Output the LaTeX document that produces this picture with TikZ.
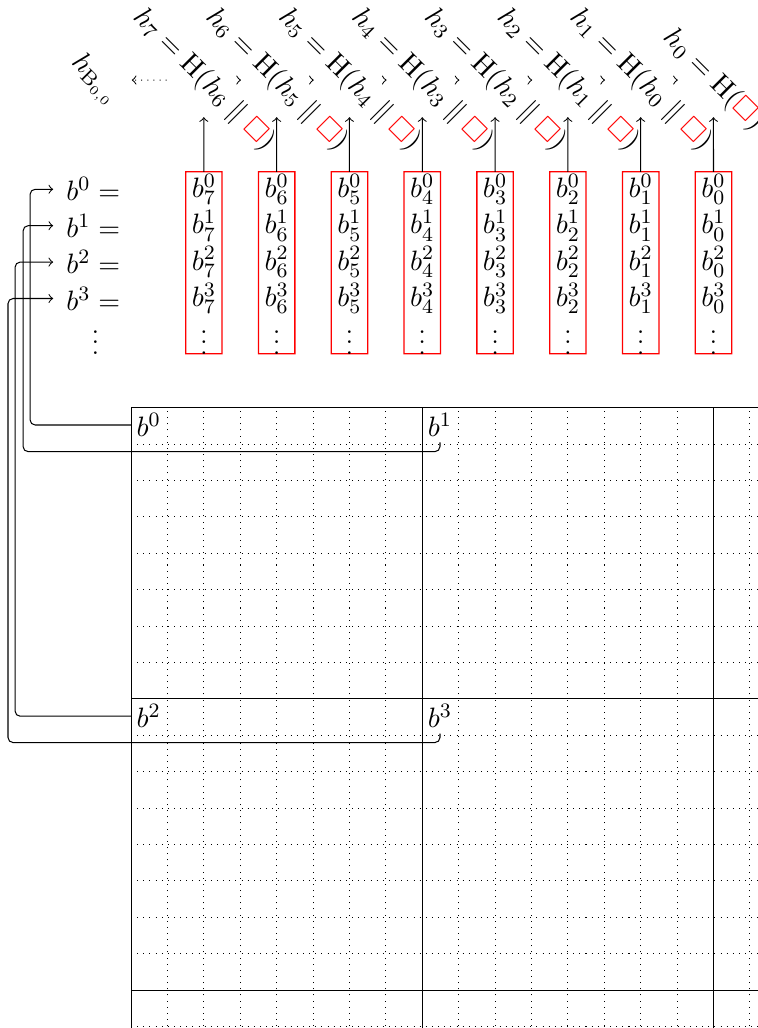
\documentclass[tikz,border=0pt]{standalone}
\usepackage{amsmath,amssymb}
\usetikzlibrary{calc}
\definecolor{boxred}{RGB}{255,0,0}
\begin{document}
\begin{tikzpicture}[
  txt/.style={font=\fontsize{11}{13}\selectfont},
  hlab/.style={txt, rotate=-45, minimum height=0.707cm, inner sep=2pt},
  blk/.style={minimum width=0.5cm, minimum height=2.5cm, inner sep=0pt, outer sep=0pt},
  ent/.style={txt, inner sep=0pt},
  glab/.style={txt, anchor=north west, inner sep=2pt},
  llab/.style={txt, anchor=west, inner xsep=5pt, inner ysep=1pt},
  conn/.style={->, rounded corners=2pt},
  chainarr/.style={->, dotted},
  >=to
]
\useasboundingbox (-1.80,-8.52) rectangle (8.61,5.60);
\clip (-1.80,-8.52) rectangle (8.61,5.60);
% grid
\draw[dotted, step=0.5] (0,-9) grid (9,0);
\draw[step=4] (0,-9) grid (9,0);
% blocks (red frames)
\foreach \i in {0,...,7}{
  \pgfmathtruncatemacro\xx{8-\i}
  \node[blk] (B\i) at (\xx,1.99) {};
  \fill[boxred, even odd rule]
    ($(B\i.south west)+(-0.25pt,-0.25pt)$) rectangle ($(B\i.north east)+(0.25pt,0.25pt)$)
    ($(B\i.south west)+(0.25pt,0.25pt)$) rectangle ($(B\i.north east)+(-0.25pt,-0.25pt)$);
}
% entries
\foreach \i in {0,...,7}{
  \pgfmathtruncatemacro\xx{8-\i}
  \foreach \r in {0,1,2,3}{
    \node[ent] (E\i\r) at (\xx,3-0.5*\r) {$b_{\i}^{\r}$};
  }
  \node[ent] (E\i d) at (\xx,1.0) {$\vdots$};
}
% hash labels
\node[hlab] (H0) at (8,4.5) {$h_{0} = \mathrm{H}({\color{boxred}\square})$};
\foreach \i in {1,...,7}{
  \pgfmathtruncatemacro\xx{8-\i}
  \pgfmathtruncatemacro\jj{\i-1}
  \node[hlab] (H\i) at (\xx,4.5) {$h_{\i} = \mathrm{H}(h_{\jj} \parallel {\color{boxred}\square})$};
}
\node[hlab] (HB) at (-0.5,4.5) {$h_{\mathrm{B}_{0,0}}$};
\foreach \i in {0,...,7}{
  \draw[->] (B\i) -- (H\i);
}
\foreach \i in {0,...,6}{
  \pgfmathtruncatemacro\jj{\i+1}
  \draw[chainarr] (H\i) -- (H\jj);
}
\draw[chainarr] (H7) -- (HB);
% left labels
\foreach \r in {0,...,3}{
  \node[llab] (L\r) at (-1.07,3-0.5*\r) {$b^{\r} =$};
}
\node[ent] (Ld) at (-0.49,1.0) {$\vdots$};
% grid labels
\node[glab] (G0) at (0,0) {$b^0$};
\node[glab] (G1) at (4,0) {$b^1$};
\node[glab] (G2) at (0,-4) {$b^2$};
\node[glab] (G3) at (4,-4) {$b^3$};
% connectors
\coordinate (k0) at (-1.387,0);
\coordinate (k1) at (-1.483,-0.604);
\coordinate (k2) at (-1.593,0);
\coordinate (k3) at (-1.69,-4.60);
\draw[conn] (G0.west) -| (k0 |- L0.west) -- (L0.west);
\draw[conn] (G1.south) |- (k1) |- (L1.west);
\draw[conn] (G2.west) -| (k2 |- L2.west) -- (L2.west);
\draw[conn] (G3.south) |- (k3) |- (L3.west);
\end{tikzpicture}
\end{document}
